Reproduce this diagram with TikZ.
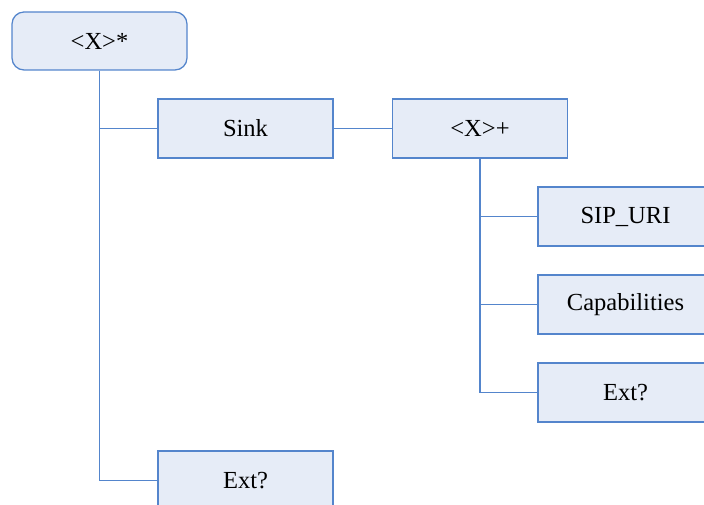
\documentclass[tikz,border=0pt]{standalone}
\usepackage{fontspec}
\setmainfont{Liberation Serif}
\definecolor{boxfill}{RGB}{230,236,247}
\definecolor{boxline}{RGB}{84,133,204}
\begin{document}
\begin{tikzpicture}[x=0.75pt,y=-0.75pt,
  box/.style={draw=boxline,fill=boxfill,line width=0.95pt,minimum width=131.25pt,minimum height=44.25pt,inner sep=0pt,font=\fontsize{18.4}{22}\selectfont},
  rootbox/.style={box,rounded corners=9pt,minimum height=43.5pt},
  conn/.style={draw=boxline,line width=0.95pt}]
\useasboundingbox (0,0) rectangle (704,505);
\clip (0,0) rectangle (704,505);
\node[rootbox] (root) at (99.5,41) {<X>*};
\node[box] (sink) at (245.5,128.5) {Sink};
\node[box] (xplus) at (480,128.5) {<X>+};
\node[box] (sip) at (625.5,216.5) {SIP\_URI};
\node[box] (cap) at (625.5,304.5) {Capabilities};
\node[box] (ext1) at (625.5,392.5) {Ext?};
\node[box] (ext2) at (245.5,480.5) {Ext?};
\draw[conn] (root.south) |- (sink.west);
\draw[conn] (root.south) |- (ext2.west);
\draw[conn] (sink.east) -- (xplus.west);
\draw[conn] (xplus.south) |- (sip.west);
\draw[conn] (xplus.south) |- (cap.west);
\draw[conn] (xplus.south) |- (ext1.west);
\end{tikzpicture}
\end{document}
